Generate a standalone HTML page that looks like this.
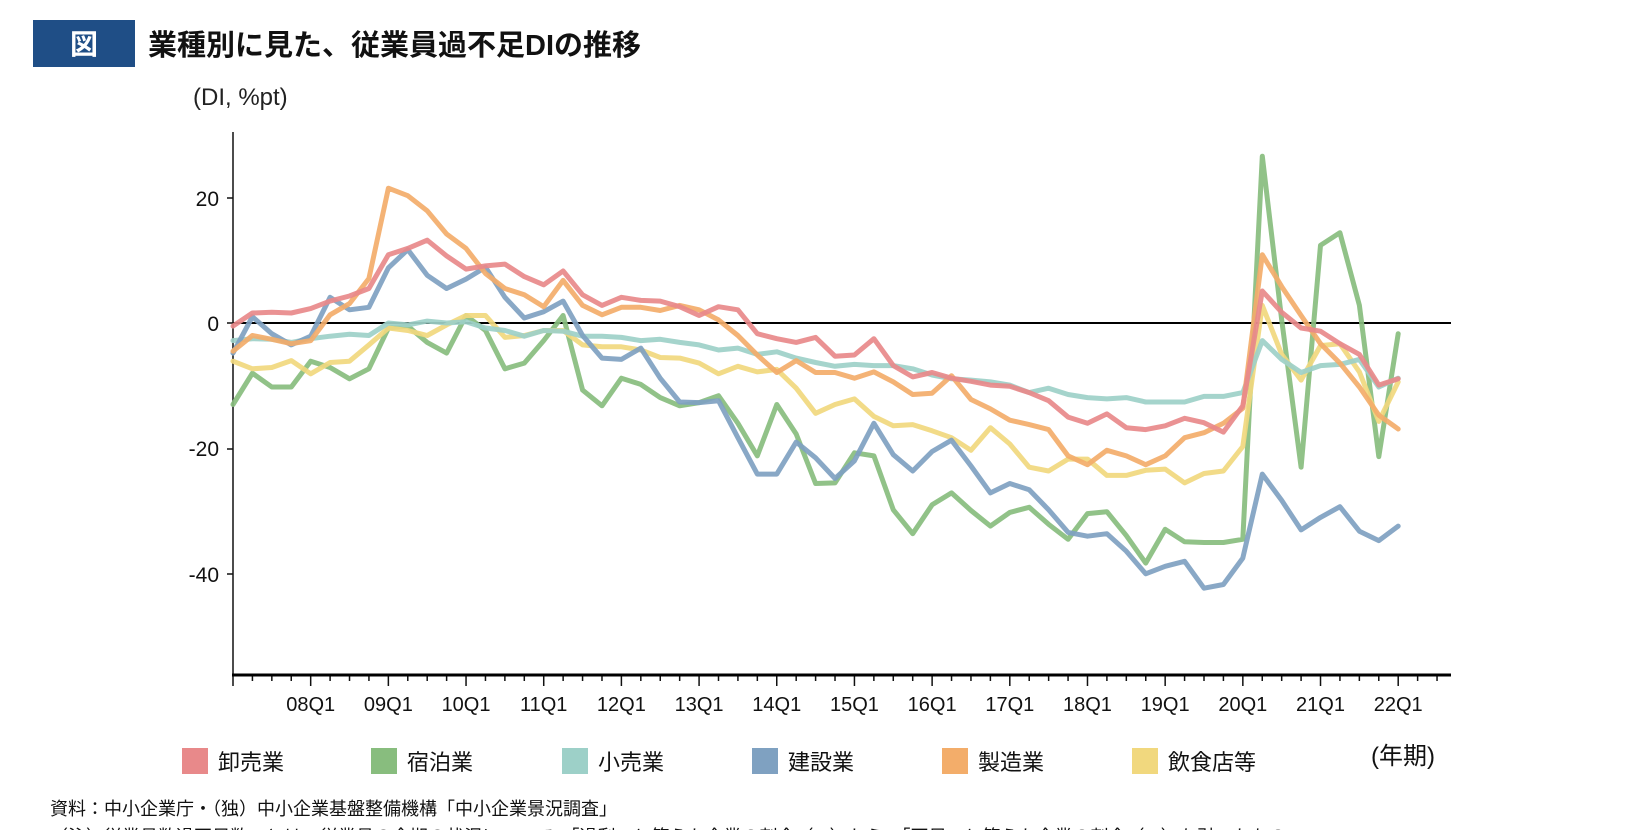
<!DOCTYPE html>
<html><head><meta charset="utf-8">
<style>
html,body{margin:0;padding:0;background:#fff;}
body{width:1625px;height:830px;overflow:hidden;position:relative;font-family:"Liberation Sans","Noto Sans CJK JP",sans-serif;}
</style></head>
<body>
<svg id="s" width="1625" height="830" xmlns="http://www.w3.org/2000/svg" style="position:absolute;left:0;top:0;font-family:'Liberation Sans','Noto Sans CJK JP',sans-serif">
<rect x="33" y="20" width="102" height="47" fill="#1f4e86"/>
<text x="84" y="54" fill="#fff" font-size="28" font-weight="bold" text-anchor="middle">図</text>
<text x="148" y="55" fill="#111" font-size="29" font-weight="bold">業種別に見た、従業員過不足DIの推移</text>
<text x="193" y="105" fill="#222" font-size="24">(DI, %pt)</text>
<g font-size="21" fill="#111" text-anchor="end">
<text x="219" y="206">20</text>
<text x="219" y="331">0</text>
<text x="219" y="456">-20</text>
<text x="219" y="582">-40</text>
</g>
<g stroke="#111" stroke-width="1.5">
<line x1="233" y1="132" x2="233" y2="675"/>
<line x1="227" y1="198" x2="233" y2="198"/>
<line x1="227" y1="323" x2="233" y2="323"/>
<line x1="227" y1="449" x2="233" y2="449"/>
<line x1="227" y1="574" x2="233" y2="574"/>
</g>
<line x1="233" y1="323" x2="1451" y2="323" stroke="#000" stroke-width="2"/>
<g id="ticks" stroke="#111" stroke-width="1.5"></g>
<line x1="232" y1="675" x2="1451" y2="675" stroke="#000" stroke-width="3"/>
<g id="xl" font-size="20" fill="#111" text-anchor="middle"></g>
<g id="lines" fill="none" stroke-width="5" stroke-linejoin="round" stroke-linecap="round"></g>
<g font-size="22" fill="#111">
<rect x="182" y="748" width="26" height="26" fill="#e8898a"/><text x="218" y="770">卸売業</text>
<rect x="371" y="748" width="26" height="26" fill="#88bd7e"/><text x="407" y="770">宿泊業</text>
<rect x="562" y="748" width="26" height="26" fill="#9dd0c8"/><text x="598" y="770">小売業</text>
<rect x="752" y="748" width="26" height="26" fill="#7fa1c1"/><text x="788" y="770">建設業</text>
<rect x="942" y="748" width="26" height="26" fill="#f3ad6a"/><text x="978" y="770">製造業</text>
<rect x="1132" y="748" width="26" height="26" fill="#f1d87e"/><text x="1168" y="770">飲食店等</text>
<text x="1371" y="764" font-size="24">(年期)</text>
</g>
<text x="50" y="815" font-size="18" fill="#111">資料：中小企業庁・（独）中小企業基盤整備機構「中小企業景況調査」</text>
<text x="50" y="843" font-size="18" fill="#111">（注）従業員数過不足数DIとは、従業員の今期の状況について、「過剰」と答えた企業の割合（%）から、「不足」と答えた企業の割合（%）を引いたもの。</text>
</svg>
<script>
var Q=19.42;
var X=function(i){return 233+i*Q;},Y=function(v){return 323-v*6.27;};
var ns="http://www.w3.org/2000/svg";
var t=document.getElementById("ticks");
for(var i=0;i<=63;i++){var x=233+i*Q;if(x>1451)break;var l=document.createElementNS(ns,"line");l.setAttribute("x1",x);l.setAttribute("x2",x);l.setAttribute("y1",675);l.setAttribute("y2",i%4==0?686:681);t.appendChild(l);}
var xl=document.getElementById("xl");
for(var k=0;k<15;k++){var tx=document.createElementNS(ns,"text");tx.setAttribute("x",X(4+4*k));tx.setAttribute("y",711);tx.textContent=(k+8<10?"0":"")+(k+8)+"Q1";xl.appendChild(tx);}
var D={
green:[-13,-8,-10.2,-10.2,-6.1,-7.1,-8.9,-7.3,-0.8,-0.5,-3.1,-4.8,1.2,-1.2,-7.3,-6.4,-2.8,1.2,-10.7,-13.2,-8.8,-9.8,-11.9,-13.2,-12.7,-11.6,-16,-21.2,-13,-17.7,-25.6,-25.5,-20.7,-21.2,-29.8,-33.6,-29,-27.1,-29.9,-32.4,-30.2,-29.4,-32.1,-34.5,-30.4,-30.1,-33.9,-38.3,-32.9,-34.9,-35,-35,-34.5,26.6,0.5,-23,12.4,14.4,2.8,-21.3,-1.7],
yellow:[-6.1,-7.3,-7.1,-6,-8.1,-6.3,-6.1,-3.5,-0.8,-1.2,-2,-0.3,1.2,1.2,-2.3,-2,-1.2,-1.2,-3.5,-3.8,-3.8,-4.3,-5.5,-5.6,-6.4,-8.1,-6.9,-7.8,-7.4,-10.4,-14.4,-13,-12.1,-14.9,-16.4,-16.2,-17.2,-18.3,-20.3,-16.7,-19.3,-23,-23.6,-21.7,-21.7,-24.3,-24.3,-23.5,-23.3,-25.5,-24,-23.6,-19.7,2.8,-5,-9.1,-3.6,-3.3,-7.8,-15.7,-9.4],
teal:[-2.8,-2.5,-2.6,-3.1,-2.5,-2.1,-1.8,-2,0,-0.3,0.3,0,0.2,-0.8,-1.2,-2.1,-1.2,-1.3,-2.1,-2.1,-2.3,-2.8,-2.6,-3.1,-3.5,-4.3,-4,-5,-4.6,-5.6,-6.3,-6.9,-6.6,-6.8,-6.8,-7.3,-8.3,-8.9,-9.1,-9.4,-9.9,-11.1,-10.4,-11.4,-11.9,-12.1,-11.9,-12.6,-12.6,-12.6,-11.7,-11.7,-11.1,-2.8,-5.8,-7.9,-6.8,-6.6,-5.8,-10.2,-8.8],
blue:[-4.8,1,-1.7,-3.5,-2.1,4.1,2.1,2.5,8.8,11.7,7.6,5.5,7,8.9,4.1,0.8,1.8,3.5,-2,-5.6,-5.8,-4,-8.8,-12.6,-12.7,-12.4,-18.3,-24.1,-24.1,-19,-21.5,-24.8,-22,-16,-21,-23.6,-20.5,-18.7,-22.8,-27.1,-25.6,-26.6,-29.8,-33.4,-34,-33.6,-36.4,-40,-38.8,-38,-42.3,-41.7,-37.5,-24.1,-28.3,-33,-31,-29.3,-33.2,-34.7,-32.4],
orange:[-4.5,-2,-2.6,-3.3,-2.8,1.3,3.1,7.1,21.5,20.3,17.9,14.2,11.9,7.9,5.5,4.5,2.6,6.8,2.8,1.3,2.5,2.5,2,2.8,2.1,0.5,-2,-5.1,-7.9,-6,-7.9,-7.9,-8.8,-7.8,-9.4,-11.4,-11.2,-8.4,-12.2,-13.7,-15.5,-16.2,-17,-21.2,-22.6,-20.3,-21.2,-22.6,-21.2,-18.3,-17.5,-16,-13.6,10.9,5.8,1.2,-3.3,-6.4,-10.2,-14.7,-16.9],
red:[-0.5,1.6,1.7,1.6,2.3,3.5,4.3,5.5,10.9,11.9,13.2,10.7,8.6,9.1,9.4,7.4,6.1,8.3,4.5,2.8,4.1,3.6,3.5,2.6,1.2,2.6,2.1,-1.7,-2.5,-3.1,-2.3,-5.3,-5.1,-2.5,-6.8,-8.6,-7.9,-8.8,-9.3,-9.9,-10.1,-11.1,-12.4,-15,-16,-14.5,-16.7,-17,-16.4,-15.2,-15.9,-17.4,-13.2,5.1,1.7,-0.8,-1.3,-3.3,-5,-9.9,-8.9]};
var C={green:"#88bd7e",yellow:"#f1d87e",teal:"#9dd0c8",blue:"#7fa1c1",orange:"#f3ad6a",red:"#e8898a"};
var g=document.getElementById("lines");
for(var k in D){var p=D[k].map(function(v,i){return X(i).toFixed(1)+","+Y(v).toFixed(1);}).join(" ");var pl=document.createElementNS(ns,"polyline");pl.setAttribute("points",p);pl.setAttribute("stroke",C[k]);pl.setAttribute("stroke-opacity","0.92");g.appendChild(pl);}
</script>
</body></html>
